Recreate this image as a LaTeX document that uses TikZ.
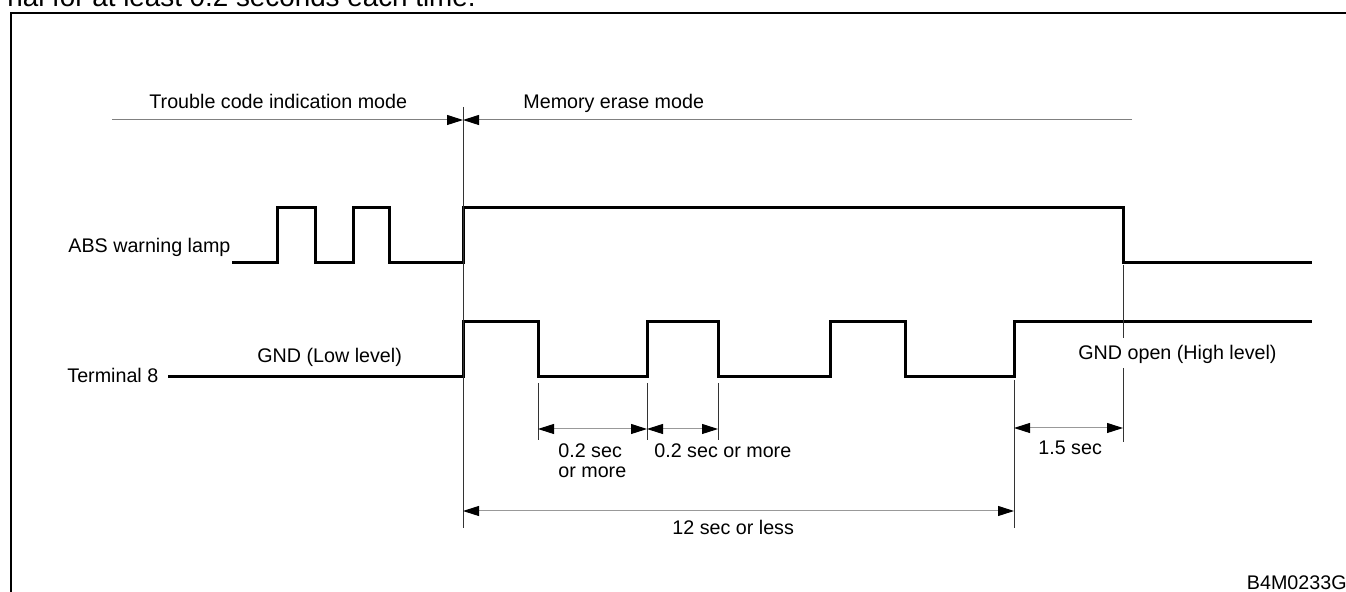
\documentclass[tikz,border=0pt]{standalone}
\usepackage{fontspec}
\setmainfont{Liberation Sans}
\usetikzlibrary{arrows.meta}
\begin{document}
\begin{tikzpicture}[x=0.5pt,y=-0.5pt,
  sig/.style={line width=1.5pt, line join=miter, line cap=butt},
  frame/.style={line width=1.1pt},
  ext/.style={line width=0.45pt, black!80},
  tip/.style={Triangle[length=8pt,width=5pt,color=black]},
  dim/.style={line width=0.5pt, black!40, {Triangle[length=8pt,width=5pt,color=black]}-{Triangle[length=8pt,width=5pt,color=black]}},
  mode/.style={line width=0.5pt, black!50, -{Triangle[length=8pt,width=5pt,color=black]}},
  lbl/.style={inner sep=0pt, anchor=base west, font=\fontsize{9.85}{10}\selectfont},
  lblr/.style={inner sep=0pt, anchor=base east, font=\fontsize{9.85}{10}\selectfont},
  toptext/.style={inner sep=0pt, anchor=base west, font=\fontsize{13.9}{14}\selectfont}
]
\useasboundingbox (0,0) rectangle (1346,592);

% cut-off caption line at the top
\node[toptext] (cap) at (7,7) {nal for at least 0.2 seconds each time.};

% frame (open at right and bottom)
\coordinate (fBL) at (11,600);
\coordinate (fTL) at (11,13);
\coordinate (fTR) at (1360,13);
\draw[frame] (fBL) -- (fTL) -- (fTR);

% mode line
\coordinate (mL) at (112,120);
\coordinate (mJ) at (463,120);
\coordinate (mR) at (1132,120);
\draw[mode] (mL) -- (mJ);
\draw[mode] (mR) -- (mJ);
\node[lbl] (tcim) at (149,109) {Trouble code indication mode};
\node[lbl] (mem) at (523,109) {Memory erase mode};

% ABS warning lamp
\node[lbl] (absl) at (68,253) {ABS warning lamp};
\coordinate (a0) at (232,263);
\draw[sig] (a0) -- (277,263) -- (277,208) -- (315,208) -- (315,263)
  -- (353,263) -- (353,208) -- (389,208) -- (389,263)
  -- (463,263) -- (463,208) -- (1123,208) -- (1123,263) -- (1312,263);

% Terminal 8
\node[lbl] (t8) at (67,383) {Terminal 8};
\coordinate (t0) at (168,377);
\draw[sig] (t0) -- (463,377) -- (463,322) -- (538,322) -- (538,377)
  -- (647,377) -- (647,322) -- (718,322) -- (718,377)
  -- (830,377) -- (830,322) -- (905,322) -- (905,377)
  -- (1014,377) -- (1014,322) -- (1312,322);
\node[lbl] (gndl) at (257,363) {GND (Low level)};
\node[lbl] (gndh) at (1078,360) {GND open (High level)};

% extension lines
\coordinate (e1a) at (463,107);  \coordinate (e1b) at (463,528);
\coordinate (e2a) at (538,383);  \coordinate (e2b) at (538,440);
\coordinate (e3a) at (647,383);  \coordinate (e3b) at (647,440);
\coordinate (e4a) at (718,383);  \coordinate (e4b) at (718,440);
\coordinate (e5a) at (1014,380); \coordinate (e5b) at (1014,528);
\coordinate (e6a) at (1123,265); \coordinate (e6b) at (1123,338);
\coordinate (e6c) at (1123,368); \coordinate (e6d) at (1123,442);
\draw[ext] (e1a) -- (e1b);
\draw[ext] (e2a) -- (e2b);
\draw[ext] (e3a) -- (e3b);
\draw[ext] (e4a) -- (e4b);
\draw[ext] (e5a) -- (e5b);
\draw[ext] (e6a) -- (e6b);
\draw[ext] (e6c) -- (e6d);

% dimensions
\coordinate (d1a) at (538,429);  \coordinate (d1b) at (647,429);
\coordinate (d2b) at (718,429);
\coordinate (d3a) at (1014,428); \coordinate (d3b) at (1123,428);
\coordinate (d4a) at (463,511);  \coordinate (d4b) at (1014,511);
\draw[dim] (d1a) -- (d1b);
\draw[dim] (d1b) -- (d2b);
\draw[dim] (d3a) -- (d3b);
\draw[dim] (d4a) -- (d4b);

\node[lbl] (l02a) at (558,458) {\begin{tabular}[t]{@{}l@{}}0.2 sec\\or more\end{tabular}};
\node[lbl] (l02b) at (654,458) {0.2 sec or more};
\node[lbl] (l15) at (1038,455) {1.5 sec};
\node[lbl] (l12) at (672,535) {12 sec or less};

\node[lblr] (code) at (1347,590) {B4M0233G};
\end{tikzpicture}
\end{document}
